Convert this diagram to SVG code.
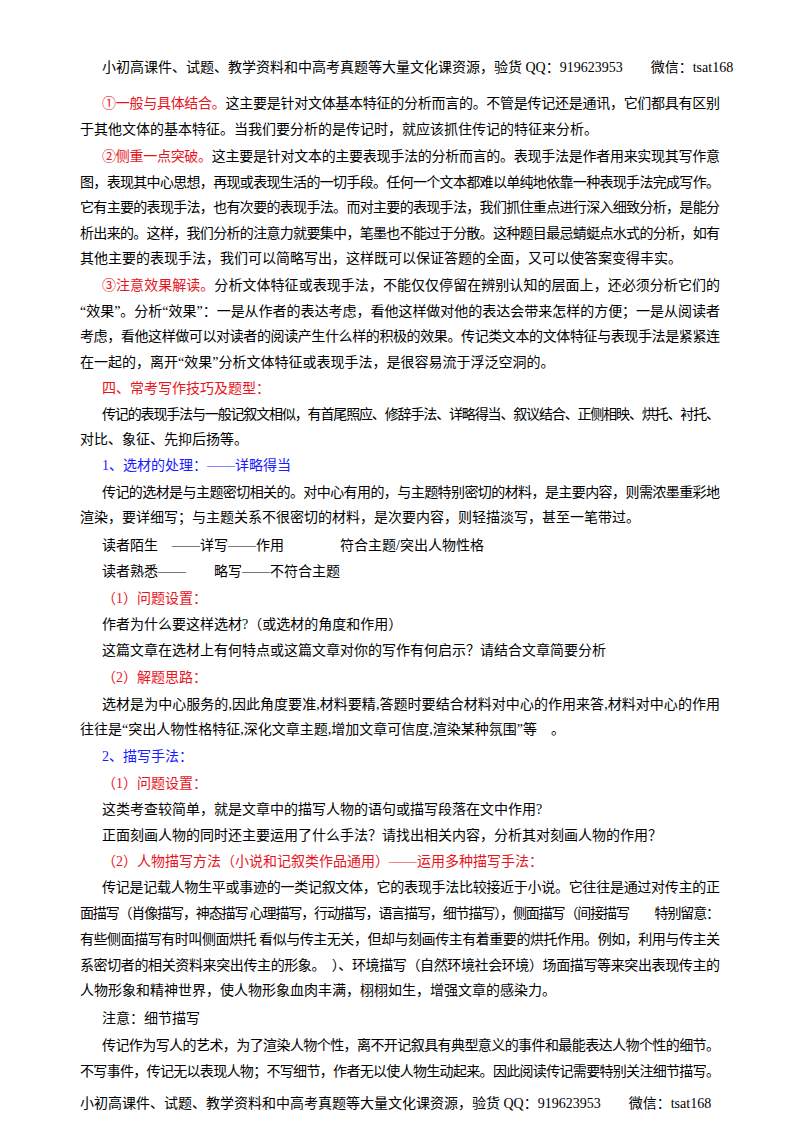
<svg xmlns="http://www.w3.org/2000/svg" width="800" height="1132" viewBox="0 0 800 1132">
<style>
text{font-family:"Liberation Serif","Noto Sans CJK SC",serif;font-size:14px;fill:#000}
.r{fill:#e8141c}.b{fill:#1a1aff}
</style>
<rect width="800" height="1132" fill="#fff"/>
<g id="header"><text x="102" y="72">小初高课件、试题、教学资料和中高考真题等大量文化课资源，验货 QQ：919623953　　微信：tsat168</text></g>
<g id="body">
<text x="102" y="108" textLength="618" lengthAdjust="spacing"><tspan class="r">①一般与具体结合。</tspan>这主要是针对文体基本特征的分析而言的。不管是传记还是通讯，它们都具有区别</text>
<text x="80" y="134">于其他文体的基本特征。当我们要分析的是传记时，就应该抓住传记的特征来分析。</text>
<text x="102" y="161" textLength="618" lengthAdjust="spacing"><tspan class="r">②侧重一点突破。</tspan>这主要是针对文本的主要表现手法的分析而言的。表现手法是作者用来实现其写作意</text>
<text x="80" y="187" textLength="640" lengthAdjust="spacing">图，表现其中心思想，再现或表现生活的一切手段。任何一个文本都难以单纯地依靠一种表现手法完成写作。</text>
<text x="80" y="212" textLength="640" lengthAdjust="spacing">它有主要的表现手法，也有次要的表现手法。而对主要的表现手法，我们抓住重点进行深入细致分析，是能分</text>
<text x="80" y="238" textLength="640" lengthAdjust="spacing">析出来的。这样，我们分析的注意力就要集中，笔墨也不能过于分散。这种题目最忌蜻蜓点水式的分析，如有</text>
<text x="80" y="263">其他主要的表现手法，我们可以简略写出，这样既可以保证答题的全面，又可以使答案变得丰实。</text>
<text x="102" y="290" textLength="618" lengthAdjust="spacing"><tspan class="r">③注意效果解读。</tspan>分析文体特征或表现手法，不能仅仅停留在辨别认知的层面上，还必须分析它们的</text>
<text x="80" y="316" textLength="640" lengthAdjust="spacing">“效果”。分析“效果”：一是从作者的表达考虑，看他这样做对他的表达会带来怎样的方便；一是从阅读者</text>
<text x="80" y="341" textLength="640" lengthAdjust="spacing">考虑，看他这样做可以对读者的阅读产生什么样的积极的效果。传记类文本的文体特征与表现手法是紧紧连</text>
<text x="80" y="367">在一起的，离开“效果”分析文体特征或表现手法，是很容易流于浮泛空洞的。</text>
<text x="102" y="393" class="r">四、常考写作技巧及题型：</text>
<text x="102" y="419" textLength="618" lengthAdjust="spacing">传记的表现手法与一般记叙文相似，有首尾照应、修辞手法、详略得当、叙议结合、正侧相映、烘托、衬托、</text>
<text x="80" y="444">对比、象征、先抑后扬等。</text>
<text x="102" y="470" class="b">1、选材的处理：——详略得当</text>
<text x="102" y="497" textLength="618" lengthAdjust="spacing">传记的选材是与主题密切相关的。对中心有用的，与主题特别密切的材料，是主要内容，则需浓墨重彩地</text>
<text x="80" y="522">渲染，要详细写；与主题关系不很密切的材料，是次要内容，则轻描淡写，甚至一笔带过。</text>
<text x="102" y="550">读者陌生　——详写——作用　　　　符合主题/突出人物性格</text>
<text x="102" y="576">读者熟悉——　　略写——不符合主题</text>
<text x="102" y="603" class="r">（1）问题设置：</text>
<text x="102" y="629">作者为什么要这样选材?（或选材的角度和作用）</text>
<text x="102" y="655">这篇文章在选材上有何特点或这篇文章对你的写作有何启示？请结合文章简要分析</text>
<text x="102" y="682" class="r">（2）解题思路：</text>
<text x="102" y="709" textLength="618" lengthAdjust="spacing">选材是为中心服务的,因此角度要准,材料要精,答题时要结合材料对中心的作用来答,材料对中心的作用</text>
<text x="80" y="734">往往是“突出人物性格特征,深化文章主题,增加文章可信度,渲染某种氛围”等　。</text>
<text x="102" y="761" class="b">2、描写手法：</text>
<text x="102" y="788" class="r">（1）问题设置：</text>
<text x="102" y="814">这类考查较简单，就是文章中的描写人物的语句或描写段落在文中作用?</text>
<text x="102" y="840">正面刻画人物的同时还主要运用了什么手法？请找出相关内容，分析其对刻画人物的作用？</text>
<text x="102" y="866" class="r">（2）人物描写方法（小说和记叙类作品通用）——运用多种描写手法：</text>
<text x="102" y="892" textLength="618" lengthAdjust="spacing">传记是记载人物生平或事迹的一类记叙文体，它的表现手法比较接近于小说。它往往是通过对传主的正</text>
<text x="80" y="918" textLength="640" lengthAdjust="spacing">面描写（肖像描写，神态描写  心理描写，行动描写，语言描写，细节描写），侧面描写（间接描写　　特别留意：</text>
<text x="80" y="944" textLength="640" lengthAdjust="spacing">有些侧面描写有时叫侧面烘托  看似与传主无关，但却与刻画传主有着重要的烘托作用。例如，利用与传主关</text>
<text x="80" y="970" textLength="640" lengthAdjust="spacing">系密切者的相关资料来突出传主的形象。　）、环境描写（自然环境社会环境）场面描写等来突出表现传主的</text>
<text x="80" y="995">人物形象和精神世界，使人物形象血肉丰满，栩栩如生，增强文章的感染力。</text>
<text x="102" y="1023">注意：细节描写</text>
<text x="102" y="1050" textLength="618" lengthAdjust="spacing">传记作为写人的艺术，为了渲染人物个性，离不开记叙具有典型意义的事件和最能表达人物个性的细节。</text>
<text x="80" y="1076" textLength="640" lengthAdjust="spacing">不写事件，传记无以表现人物；不写细节，作者无以使人物生动起来。因此阅读传记需要特别关注细节描写。</text>
</g>
<g id="footer"><text x="80" y="1108">小初高课件、试题、教学资料和中高考真题等大量文化课资源，验货 QQ：919623953　　微信：tsat168</text></g>
</svg>
